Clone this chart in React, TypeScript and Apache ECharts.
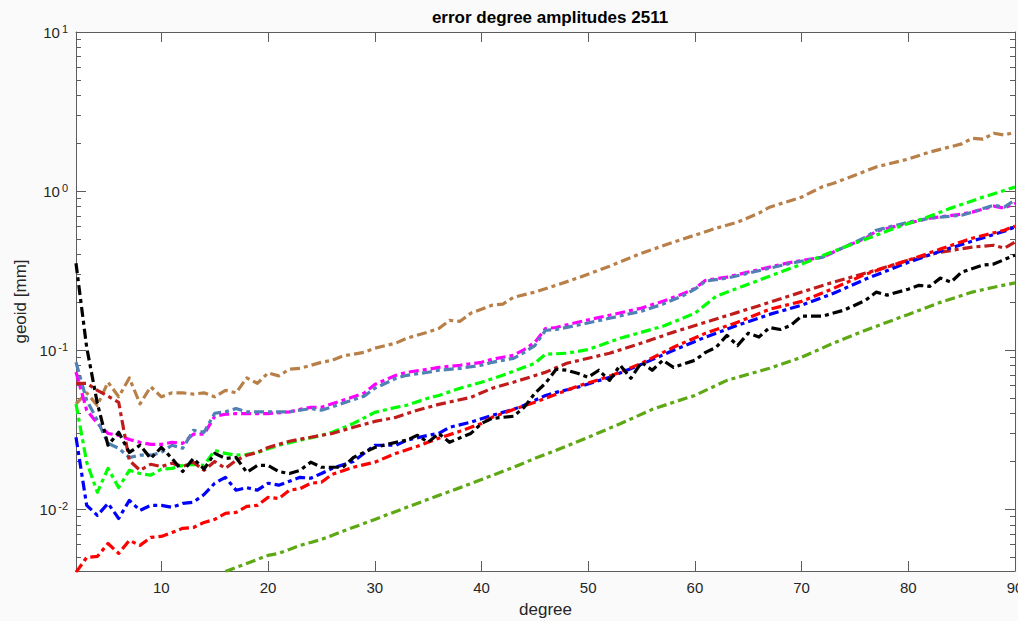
import React, { useEffect, useRef } from "react";
import * as echarts from "echarts";

// ---------- data (geoid error degree amplitudes, mm) ----------
const brownDeg = [2,3,4,5,6,7,8,9,10,11,12,13,14,15,16,17,18,19,20,21,22,23,25,26,27,29,30,32,33,35,36,37,38,39,41,42,43,45,47,49,52,55,58,60,62,64,66,67,70,72,73,75,77,80,82,85,86,87,88,89,90];
const brownVal = [0.046,0.054,0.045,0.063,0.051,0.067,0.046,0.059,0.051,0.054,0.054,0.053,0.054,0.051,0.056,0.054,0.067,0.062,0.072,0.069,0.076,0.077,0.084,0.0865,0.092,0.097,0.103,0.111,0.119,0.130,0.137,0.154,0.152,0.171,0.192,0.195,0.215,0.232,0.256,0.284,0.337,0.407,0.478,0.529,0.585,0.638,0.727,0.793,0.917,1.07,1.12,1.26,1.42,1.59,1.76,1.98,2.15,2.12,2.31,2.25,2.35];

const magentaDeg = [2,3,4,5,6,7,8,9,10,11,12,13,14,15,16,17,18,20,22,23,24,25,27,29,30,32,33,35,36,38,40,41,43,44,45,46,47,49,52,55,57,59,60,61,63,65,67,69,72,74,76,77,80,82,85,86,88,89,90];
const magentaVal = [0.073,0.042,0.0347,0.030,0.0292,0.0275,0.0264,0.0256,0.0256,0.0264,0.026,0.0297,0.0297,0.0385,0.0396,0.040,0.040,0.040,0.041,0.0425,0.0438,0.0438,0.0485,0.0537,0.061,0.0696,0.0727,0.076,0.078,0.0805,0.084,0.0878,0.093,0.101,0.112,0.137,0.139,0.150,0.166,0.184,0.203,0.228,0.245,0.275,0.288,0.310,0.333,0.357,0.385,0.445,0.506,0.560,0.629,0.676,0.717,0.738,0.805,0.782,0.841];

const steelDeg = magentaDeg;
const steelVal = [0.084,0.0485,0.0363,0.026,0.0242,0.0212,0.0219,0.0219,0.0228,0.0253,0.0242,0.0314,0.0305,0.0402,0.041,0.043,0.041,0.041,0.041,0.042,0.043,0.042,0.0464,0.0514,0.0577,0.0667,0.0696,0.0727,0.0749,0.077,0.0805,0.084,0.089,0.097,0.107,0.1336,0.135,0.1436,0.159,0.176,0.195,0.222,0.242,0.272,0.284,0.305,0.328,0.352,0.385,0.445,0.514,0.568,0.638,0.676,0.706,0.738,0.816,0.793,0.878];

const greenDeg = [2,3,4,5,6,7,8,9,10,11,12,13,14,15,16,17,18,19,21,23,25,26,28,30,32,33,35,36,38,40,42,43,45,46,48,50,53,57,60,62,64,67,70,73,76,79,81,84,87,90];
const greenVal = [0.046,0.0198,0.0128,0.0181,0.0137,0.0176,0.0168,0.0164,0.0179,0.0181,0.0189,0.0192,0.0189,0.0235,0.0225,0.0219,0.0222,0.0228,0.0253,0.0272,0.0292,0.0305,0.0347,0.0407,0.0438,0.0451,0.050,0.052,0.0577,0.063,0.0696,0.0738,0.0828,0.0944,0.0958,0.101,0.119,0.1416,0.171,0.219,0.245,0.292,0.347,0.419,0.499,0.594,0.657,0.782,0.917,1.06];

const darkRedDeg = [2,3,4,5,6,7,8,9,10,11,12,13,14,15,16,17,18,19,20,22,24,26,28,30,32,34,36,39,41,43,46,48,52,55,58,61,64,67,70,73,77,80,83,86,88,89,90];
const darkRedVal = [0.062,0.062,0.056,0.0514,0.0471,0.0203,0.0176,0.0192,0.0186,0.0195,0.0186,0.0198,0.0176,0.020,0.0181,0.0203,0.0219,0.0228,0.0245,0.0268,0.0284,0.030,0.0328,0.0357,0.0379,0.042,0.0457,0.0506,0.0577,0.063,0.0727,0.0828,0.0958,0.111,0.130,0.150,0.173,0.200,0.232,0.268,0.319,0.368,0.413,0.445,0.457,0.438,0.478];

const redDeg = [2,3,4,5,6,7,8,9,10,11,12,13,14,15,16,17,18,19,20,21,22,23,24,25,26,28,30,32,34,36,38,40,41,43,45,47,49,52,55,58,61,64,67,70,73,76,80,83,86,89,90];
const redVal = [0.00402,0.00499,0.00506,0.0061,0.00529,0.00638,0.00594,0.00667,0.00676,0.00716,0.0076,0.0077,0.00828,0.00865,0.00944,0.00958,0.01044,0.0106,0.0119,0.0117,0.0132,0.0135,0.0146,0.0148,0.0166,0.0184,0.0198,0.0225,0.0249,0.028,0.031,0.0347,0.0379,0.0425,0.0471,0.0529,0.0594,0.0686,0.0828,0.1045,0.128,0.150,0.181,0.203,0.245,0.301,0.368,0.432,0.506,0.568,0.603];

const blueDeg = [2,3,4,5,6,7,8,9,10,11,12,13,14,15,16,17,18,19,20,21,23,24,25,26,28,29,30,32,33,35,36,37,39,41,43,44,46,47,49,52,55,58,61,64,67,70,73,76,80,83,86,89,90];
const blueVal = [0.0284,0.0106,0.00917,0.0109,0.00877,0.0114,0.00986,0.0106,0.0106,0.0103,0.0109,0.0111,0.0124,0.0146,0.0159,0.0132,0.0137,0.0132,0.0146,0.0142,0.0159,0.0157,0.0168,0.0181,0.020,0.0225,0.0253,0.0253,0.0272,0.0292,0.030,0.0328,0.0353,0.039,0.0425,0.0451,0.052,0.0544,0.0585,0.0676,0.0816,0.100,0.121,0.1436,0.168,0.192,0.228,0.280,0.357,0.419,0.485,0.560,0.594];

const blackDeg = [2,3,4,5,6,7,8,9,10,11,12,13,14,15,16,17,18,19,20,21,22,23,24,25,27,28,30,32,33,34,35,36,37,39,40,41,43,44,45,46,47,48,49,50,51,52,53,54,55,56,57,58,60,61,62,63,64,65,66,67,68,69,70,72,74,76,77,78,80,81,82,83,84,85,87,88,90];
const blackVal = [0.352,0.1045,0.0464,0.0253,0.0305,0.0228,0.0253,0.0209,0.0245,0.0209,0.0173,0.0209,0.0179,0.0225,0.0209,0.0212,0.0171,0.0189,0.0189,0.0173,0.0168,0.0176,0.0198,0.0184,0.0184,0.0212,0.0245,0.0264,0.0272,0.0292,0.0264,0.030,0.0264,0.030,0.0347,0.0373,0.0385,0.0438,0.0537,0.062,0.076,0.0749,0.0717,0.0676,0.0749,0.0647,0.0805,0.0667,0.084,0.0749,0.0865,0.078,0.0865,0.097,0.1045,0.124,0.107,0.128,0.121,0.139,0.135,0.1436,0.164,0.164,0.179,0.206,0.232,0.222,0.242,0.256,0.252,0.284,0.268,0.310,0.343,0.348,0.396];

const yellowGreenDeg = [16,17,18,19,20,21,22,23,24,25,27,30,33,35,38,40,43,45,47,50,53,56,58,60,63,65,67,70,73,76,80,83,86,88,90];
const yellowGreenVal = [0.00407,0.00432,0.00457,0.00485,0.00514,0.00529,0.0056,0.00594,0.0062,0.00647,0.00728,0.00865,0.0103,0.01156,0.0137,0.0154,0.0184,0.0209,0.0235,0.0284,0.0345,0.0425,0.0471,0.052,0.0647,0.0706,0.077,0.0904,0.111,0.1336,0.168,0.200,0.232,0.249,0.265];

// ---------- axes ----------
const xTickLabels = [10, 20, 30, 40, 50, 60, 70, 80, 90];
const yDecades = [-2, -1, 0, 1];
const X_MIN = 2;
const X_MAX = 90;
const Y_MIN_VALUE = 0.0041;
const Y_MAX_VALUE = 10;

const FONT = "'Liberation Sans', Arial, Helvetica, sans-serif";
const AXIS_COLOR = "#5c5c5c";
const TEXT_COLOR = "#262626";

export default function App() {
  const ref = useRef<HTMLDivElement | null>(null);

  useEffect(() => {
    if (!ref.current) return;
    const chart = echarts.init(ref.current, undefined, { renderer: "svg" });

    const yMin = Math.log10(Y_MIN_VALUE);
    const yMax = Math.log10(Y_MAX_VALUE);
    const minorTicks: number[] = [];
    for (let n = -3; n <= 0; n++) {
      for (let k = 2; k <= 9; k++) {
        const v = Math.log10(k * Math.pow(10, n));
        if (v > yMin && v < yMax) minorTicks.push(v);
      }
    }

    const toData = (deg: number[], val: number[]) =>
      deg.map((d, i) => [d, Math.log10(val[i])]);

    const mkSeries = (name: string, deg: number[], val: number[], color: string) => ({
      name,
      type: "line",
      data: toData(deg, val),
      showSymbol: false,
      symbol: "none",
      clip: true,
      lineStyle: { color, width: 3.2, type: [10, 4, 4, 4], cap: "butt", join: "round" },
    });

    const xBase = {
      type: "value",
      min: X_MIN,
      max: X_MAX,
      splitLine: { show: false },
      axisLine: { show: true, onZero: false, lineStyle: { color: AXIS_COLOR, width: 1 } },
    };
    const yBase = {
      type: "value",
      min: yMin,
      max: yMax,
      splitLine: { show: false },
      axisLine: { show: true, onZero: false, lineStyle: { color: AXIS_COLOR, width: 1 } },
    };

    chart.setOption({
      animation: false,
      backgroundColor: "#fafafa",
      title: {
        text: "error degree amplitudes 2511",
        left: 545,
        top: 4,
        textAlign: "center",
        textStyle: { fontFamily: FONT, fontSize: 17, fontWeight: "bold", color: "#000" },
      },
      grid: {
        left: 76,
        right: 3,
        top: 32,
        bottom: 50,
        show: true,
        backgroundColor: "#ffffff",
        borderWidth: 0,
        containLabel: false,
        outerBoundsMode: "none",
      },
      xAxis: [
        {
          ...xBase,
          position: "bottom",
          name: "degree",
          nameLocation: "middle",
          nameGap: 30,
          nameTextStyle: { fontFamily: FONT, fontSize: 17, color: TEXT_COLOR },
          axisTick: {
            show: true,
            inside: true,
            length: 10,
            customValues: xTickLabels,
            lineStyle: { color: AXIS_COLOR },
          },
          axisLabel: {
            customValues: xTickLabels,
            fontFamily: FONT,
            fontSize: 15,
            color: TEXT_COLOR,
            margin: 9,
          },
        },
        {
          ...xBase,
          position: "top",
          axisTick: {
            show: true,
            inside: true,
            length: 10,
            customValues: xTickLabels,
            lineStyle: { color: AXIS_COLOR },
          },
          axisLabel: { show: false },
        },
      ],
      yAxis: [
        {
          ...yBase,
          position: "left",
          name: "geoid [mm]",
          nameLocation: "middle",
          nameGap: 46,
          nameTextStyle: { fontFamily: FONT, fontSize: 17, color: TEXT_COLOR },
          axisTick: {
            show: true,
            inside: true,
            length: 10,
            customValues: yDecades,
            lineStyle: { color: AXIS_COLOR },
          },
          axisLabel: {
            customValues: yDecades,
            margin: 8,
            formatter: (v: number) => `{b|10}{s|${Math.round(v)}}`,
            rich: {
              b: { fontFamily: FONT, fontSize: 15, color: TEXT_COLOR, lineHeight: 18 },
              s: { fontFamily: FONT, fontSize: 11, color: TEXT_COLOR, lineHeight: 11, verticalAlign: "top", padding: [0, 0, 0, 2] },
            },
          },
        },
        {
          ...yBase,
          position: "left",
          axisLine: { show: false, onZero: false },
          axisTick: {
            show: true,
            inside: true,
            length: 5,
            customValues: minorTicks,
            lineStyle: { color: AXIS_COLOR },
          },
          axisLabel: { show: false },
        },
        {
          ...yBase,
          position: "right",
          axisTick: {
            show: true,
            inside: true,
            length: 10,
            customValues: yDecades,
            lineStyle: { color: AXIS_COLOR },
          },
          axisLabel: { show: false },
        },
        {
          ...yBase,
          position: "right",
          axisLine: { show: false, onZero: false },
          axisTick: {
            show: true,
            inside: true,
            length: 5,
            customValues: minorTicks,
            lineStyle: { color: AXIS_COLOR },
          },
          axisLabel: { show: false },
        },
      ],
      series: [
        mkSeries("brown", brownDeg, brownVal, "#b88048"),
        mkSeries("magenta", magentaDeg, magentaVal, "#ff00ff"),
        mkSeries("steelblue", steelDeg, steelVal, "#4f81b4"),
        mkSeries("green", greenDeg, greenVal, "#00ff00"),
        mkSeries("darkred", darkRedDeg, darkRedVal, "#c01c1c"),
        mkSeries("blue", blueDeg, blueVal, "#0000ff"),
        mkSeries("red", redDeg, redVal, "#ff0000"),
        mkSeries("black", blackDeg, blackVal, "#000000"),
        mkSeries("yellowgreen", yellowGreenDeg, yellowGreenVal, "#5ea814"),
      ],
    });

    return () => chart.dispose();
  }, []);

  return (
    <div
      ref={ref}
      style={{ position: "fixed", left: 0, top: 0, width: 1018, height: 621 }}
    />
  );
}
